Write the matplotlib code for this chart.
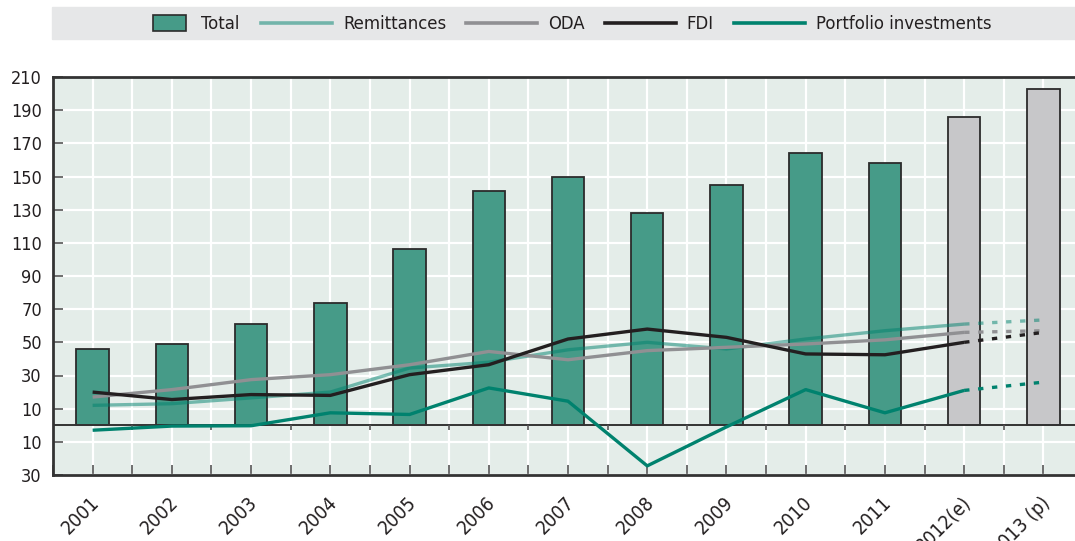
import matplotlib
matplotlib.use("Agg")
import matplotlib.pyplot as plt
from matplotlib.patches import Rectangle, Patch
from matplotlib.lines import Line2D
import matplotlib.transforms as mtransforms
import numpy as np

plt.rcParams['font.family'] = ['DejaVu Sans']
plt.rcParams['font.stretch'] = 'condensed'

years = ["2001", "2002", "2003", "2004", "2005", "2006", "2007", "2008",
         "2009", "2010", "2011", "2012(e)", "2013 (p)"]
total = [46, 49, 61, 74, 106, 141, 150, 128, 145, 164, 158, 186, 203]
remittances = [12, 13, 16.5, 20, 34.5, 38, 45.5, 50, 46, 52, 57, 61, 63.5]
oda = [17, 21.5, 27.5, 30.5, 36.5, 44.5, 39.5, 45, 47, 49, 51.5, 56, 57]
fdi = [20, 15.5, 18.5, 18, 30.5, 36.5, 52, 58, 53, 43, 42.5, 50, 56]
portfolio = [-3, -0.5, -0.3, 7.5, 6.5, 22.5, 14.5, -24.5, -1, 21.5, 7.5, 21, 26]
n_actual = 11  # 2001-2011 actual; 2012-2013 estimate / projection
yticks = [-30, -10, 10, 30, 50, 70, 90, 110, 130, 150, 170, 190, 210]
ytick_labels = ["30", "10", "10", "30", "50", "70", "90", "110", "130",
                "150", "170", "190", "210"]

TEAL_BAR = "#469b88"
GREY_BAR = "#c7c7c9"
EDGE = "#2b2b2b"
BG = "#e4ede9"
TXT = "#231f20"
C_REM = "#00826e"
C_ODA = "#909093"
C_FDI = "#231f20"
C_PORT = "#00826e"

fig = plt.figure(figsize=(10.75, 5.41), dpi=100)
ax = fig.add_axes([53 / 1075, 66 / 541, 1030 / 1075, 398 / 541])
ax.set_facecolor(BG)

x = np.arange(len(years))
colors = [TEAL_BAR] * n_actual + [GREY_BAR] * (len(years) - n_actual)
ax.bar(x, total, width=0.41, color=colors, edgecolor=EDGE, linewidth=1.3, zorder=3)

ax.axhline(0, color="#333333", lw=1.4, zorder=4)
bounds = np.arange(-0.5, len(years), 1.0)[1:]
ax.vlines(bounds, -3, 0, color="#555555", lw=1.2, zorder=4)

series = [(remittances, C_REM, 0.5), (oda, C_ODA, 1.0),
          (fdi, C_FDI, 1.0), (portfolio, C_PORT, 1.0)]
k = n_actual + 1
for vals, col, a in series:
    ax.plot(x[:k], vals[:k], color=col, alpha=a, lw=2.4, zorder=5,
            solid_capstyle='butt')
    ax.plot(x[k - 1:], vals[k - 1:], color=col, alpha=a, lw=2.4, zorder=5,
            linestyle=(0, (1.6, 2.6)), dash_capstyle='butt')

ax.set_xlim(-0.5, 12.5)
ax.set_ylim(-30, 210)
ax.set_yticks(yticks)
ax.set_yticklabels(ytick_labels)
ax.set_xticks(x)
ax.set_xticks(np.arange(-0.5, 12.6, 1.0), minor=True)
ax.set_xticklabels(years, rotation=45, ha='right', rotation_mode='anchor')

ax.grid(True, which='both', axis='x', color='white', lw=1.6, zorder=0)
ax.grid(True, which='major', axis='y', color='white', lw=1.6, zorder=0)
ax.set_axisbelow(True)

ax.tick_params(axis='y', direction='in', length=7, width=1.2, colors="#555555",
               labelcolor=TXT, labelsize=13, pad=8)
ax.tick_params(axis='x', which='both', direction='in', length=7, width=1.2,
               colors="#555555", labelcolor=TXT, labelsize=14, pad=13)
for lbl in ax.get_xticklabels():
    lbl.set_transform(lbl.get_transform() +
                      mtransforms.ScaledTranslation(-3 / 100, 0, fig.dpi_scale_trans))

for s in ['left', 'top', 'bottom']:
    ax.spines[s].set_color("#333333")
    ax.spines[s].set_linewidth(2)
ax.spines['right'].set_visible(False)

fig.patches.append(Rectangle((52 / 1075, (541 - 39) / 541), 1, 32 / 541,
                             transform=fig.transFigure, color="#e6e7e8",
                             zorder=0))
ycen = (541 - 24) / 541
fig.legend([Patch(facecolor=TEAL_BAR, edgecolor=EDGE, linewidth=1.2)],
           ["Total"], loc='center left', bbox_to_anchor=(153 / 1075, ycen),
           frameon=False, fontsize=13.2, handlelength=1.8, handleheight=0.95,
           handletextpad=0.8, borderpad=0, borderaxespad=0, labelcolor=TXT)
line_handles = [Line2D([], [], color=C_REM, alpha=0.5, lw=2.6),
                Line2D([], [], color=C_ODA, lw=2.6),
                Line2D([], [], color=C_FDI, lw=2.6),
                Line2D([], [], color=C_PORT, lw=2.6)]
fig.legend(line_handles, ["Remittances", "ODA", "FDI", "Portfolio investments"],
           loc='center left', bbox_to_anchor=(261 / 1075, ycen), ncol=4,
           frameon=False, fontsize=13.2, handlelength=3.87, handletextpad=0.6,
           columnspacing=1.1, borderpad=0, borderaxespad=0, labelcolor=TXT)

fig.savefig("out.png", dpi=100)
